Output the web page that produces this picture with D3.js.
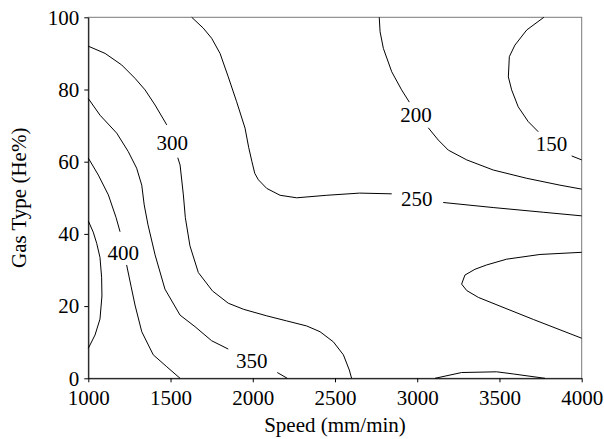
<!DOCTYPE html>
<html>
<head>
<meta charset="utf-8">
<script src="https://cdn.jsdelivr.net/npm/d3@7"></script>
<style>
  body { margin: 0; background: #fff; }
</style>
</head>
<body>
<div id="chart"></div>
<script>
// tick values
var speedTicks = [1000, 1500, 2000, 2500, 3000, 3500, 4000];
var gasTicks = [0, 20, 40, 60, 80, 100];

// contour lines, [speed, gas] points, split where the label sits
var c450 = [
  [[1000, 43.6], [1030, 40.5], [1051, 37.4], [1071, 33.5], [1081, 28], [1083, 22.8], [1071, 16.4], [1041, 12.0], [1000, 8.3]]
];
var c400 = [
  [[1000, 61], [1061, 56.3], [1122, 50.8], [1169, 44.5], [1193, 40.6]],
  [[1233, 31.4], [1260, 25.5], [1284, 20.3], [1325, 12.9], [1395, 6.5], [1477, 3.2], [1558, 0]]
];
var c350 = [
  [[1000, 77.5], [1071, 72.9], [1173, 67.9], [1243, 62.8], [1294, 58.2], [1325, 53.5], [1340, 48], [1363, 42.5],
   [1406, 34.2], [1466, 24.7], [1558, 17.5], [1649, 14.3], [1750, 10.4], [1851, 8.1]],
  [[2149, 1.6], [2210, 0]]
];
var c300 = [
  [[1000, 92.0], [1102, 90.0], [1203, 86.8], [1284, 83.1], [1345, 79.9], [1406, 75.7], [1477, 70.2]],
  [[1544, 61.1], [1558, 59.1], [1578, 50.8], [1590, 44.5], [1618, 36.7], [1669, 29.3], [1755, 24.2], [1851, 20.8],
   [1945, 19.1], [2085, 17.3], [2206, 15.9], [2328, 14.5], [2409, 12.9], [2490, 10.1], [2551, 6.5], [2587, 2.3], [2601, 0]]
];
var c250 = [
  [[1629, 100], [1699, 97.0], [1750, 94.2], [1801, 90.0], [1851, 83.5], [1902, 76.6], [1953, 69.3], [1975, 64],
   [1995, 60], [2012, 56.8], [2034, 55], [2085, 52.6], [2166, 50.7], [2267, 50.0], [2450, 50.7], [2650, 51.3], [2845, 51.1]],
  [[3158, 48.7], [3462, 47.3], [3766, 46.0], [4000, 45.0]],
  [[4000, 34.9], [3746, 34.3], [3544, 33.0], [3422, 31.4], [3351, 30.2], [3290, 28.6], [3270, 26.1], [3301, 24.3],
   [3372, 22.4], [3503, 20.0], [3706, 16.3], [4000, 11.1]],
  [[3108, 0], [3270, 1.6], [3483, 1.8], [3584, 1.2], [3777, 0]]
];
var c200 = [
  [[2769, 100], [2774, 96.0], [2794, 91.4], [2845, 84.9], [2905, 79.9], [2952, 76.5]],
  [[3067, 69.4], [3128, 66.0], [3189, 63.2], [3301, 60.5], [3462, 57.7], [3666, 55.4], [3868, 53.5], [4000, 52.4]]
];
var c150 = [
  [[3770, 100], [3666, 96.5], [3594, 92.3], [3560, 89.1], [3554, 83.5], [3574, 79.9], [3614, 75.2], [3675, 71.1], [3736, 68.3]],
  [[3939, 61.6], [4000, 60.5]]
];

// contour labels: level, speed, gas
var labelLevels = ["400", "350", "300", "250", "200", "150"];
var labelSpeed = [1213, 1994, 1510, 2997, 2993, 3817];
var labelGas = [34.9, 4.9, 65.2, 49.9, 73.1, 64.9];

var allSegments = [].concat(c450, c400, c350, c300, c250, c200, c150);

var W = 604, H = 439;
var margin = {top: 17.3, right: 22.3, bottom: 60.7, left: 88.3};
var width = W - margin.left - margin.right,
    height = H - margin.top - margin.bottom;
var serif = '"Liberation Serif", "Times New Roman", serif';

var x = d3.scaleLinear().domain([1000, 4000]).range([0, width]);
var y = d3.scaleLinear().domain([0, 100]).range([height, 0]);

var svg = d3.select("#chart").append("svg")
    .attr("width", W)
    .attr("height", H)
    .attr("font-family", serif);

var g = svg.append("g")
    .attr("transform", "translate(" + margin.left + "," + margin.top + ")");

// frame (top and right in gray)
g.append("rect")
    .attr("x", 0).attr("y", 0)
    .attr("width", width).attr("height", height)
    .attr("fill", "none")
    .attr("stroke", "#7a7a7a")
    .attr("stroke-width", 1);

var line = d3.line()
    .x(function(d) { return x(d[0]); })
    .y(function(d) { return y(d[1]); })
    .curve(d3.curveLinear);

g.selectAll("path.contour")
    .data(allSegments)
  .enter().append("path")
    .attr("class", "contour")
    .attr("fill", "none")
    .attr("stroke", "#000")
    .attr("stroke-width", 1)
    .attr("stroke-linejoin", "round")
    .attr("d", line);

g.selectAll("text.clabel")
    .data(labelLevels)
  .enter().append("text")
    .attr("class", "clabel")
    .attr("x", function(d, i) { return x(labelSpeed[i]); })
    .attr("y", function(d, i) { return y(labelGas[i]); })
    .attr("dy", "0.35em")
    .attr("text-anchor", "middle")
    .attr("font-family", serif)
    .attr("font-size", 21)
    .text(function(d) { return d; });

// axes
var xaxis = d3.axisBottom(x)
    .tickValues(speedTicks)
    .tickSize(4)
    .tickSizeOuter(0)
    .tickPadding(8)
    .tickFormat(d3.format("d"));

var yaxis = d3.axisLeft(y)
    .tickValues(gasTicks)
    .tickSize(4)
    .tickSizeOuter(0)
    .tickPadding(5)
    .tickFormat(d3.format("d"));

var gx = g.append("g")
    .attr("transform", "translate(0," + height + ")")
    .call(xaxis);
var gy = g.append("g").call(yaxis);

[gx, gy].forEach(function(a) {
  a.attr("font-family", serif).attr("font-size", 21);
  a.selectAll("text").attr("fill", "#000");
  a.selectAll("line").attr("stroke", "#000");
  a.select(".domain").attr("stroke", "#000");
});

// axis titles
svg.append("text")
    .attr("x", margin.left + width / 2)
    .attr("y", 432)
    .attr("text-anchor", "middle")
    .attr("font-size", 21)
    .text("Speed (mm/min)");

svg.append("text")
    .attr("transform", "translate(26," + (margin.top + height / 2) + ") rotate(-90)")
    .attr("text-anchor", "middle")
    .attr("font-size", 21)
    .text("Gas Type (He%)");
</script>
</body>
</html>
